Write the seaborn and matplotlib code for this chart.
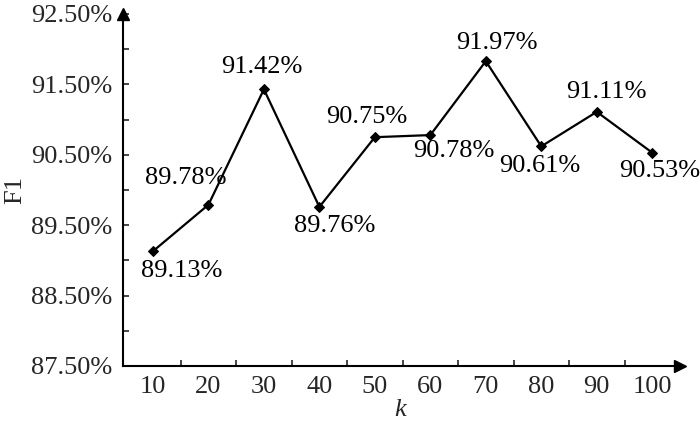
import matplotlib
matplotlib.use('Agg')
import matplotlib.pyplot as plt
from matplotlib.ticker import FixedLocator, FormatStrFormatter
import numpy as np
import pandas as pd
import seaborn as sns

# values (point heights) and the printed labels
k = [10, 20, 30, 40, 50, 60, 70, 80, 90, 100]
f1 = [89.13, 89.79, 91.43, 89.76, 90.75, 90.78, 91.83, 90.62, 91.11, 90.53]
f1_labels = ['89.13%', '89.78%', '91.42%', '89.76%', '90.75%',
             '90.78%', '91.97%', '90.61%', '91.11%', '90.53%']

# label offsets from each point, in pixels (dx, dy up)
label_offsets = [(29, -20), (-23, 27), (-2, 22), (15, -19), (-8, 20),
                 (23, -16), (11, 18), (-2, -20), (10, 20), (7, -18)]

df = pd.DataFrame({'k': k, 'F1': f1})

sns.set_style('ticks')
plt.rcParams['font.family'] = ['Liberation Serif', 'DejaVu Serif']
plt.rcParams['mathtext.fontset'] = 'custom'
plt.rcParams['mathtext.it'] = 'Liberation Serif:italic'
fs = 19

fig = plt.figure(figsize=(7, 4.28), dpi=100)
ax = fig.add_axes([0.1757, 0.1449, 0.7957, 0.8224])

sns.lineplot(data=df, x='k', y='F1', ax=ax, color='black', linewidth=1.6,
             marker='D', markersize=5, markeredgecolor='black')

for xi, yi, lab, (dx, dy) in zip(k, f1, f1_labels, label_offsets):
    ax.annotate(lab, (xi, yi), xytext=(dx, dy), textcoords='offset pixels',
                ha='center', va='center', fontsize=fs, color='black')

ax.set_xlim(4.6, 105)
ax.set_ylim(87.5, 92.5)

ax.set_yticks(np.arange(87.5, 92.6, 1.0))
ax.yaxis.set_minor_locator(FixedLocator([88, 89, 90, 91, 92]))
ax.yaxis.set_major_formatter(FormatStrFormatter('%.2f%%'))

ax.set_xticks(k)
ax.xaxis.set_minor_locator(FixedLocator(np.arange(15, 100, 10)))
ax.tick_params(axis='x', which='major', length=0, pad=7, labelsize=fs)
ax.tick_params(axis='x', which='minor', direction='in', length=4, width=1.2)
ax.tick_params(axis='y', which='both', direction='in', length=4, width=1.2,
               labelsize=fs, pad=8)

for s in ['top', 'right']:
    ax.spines[s].set_visible(False)
for s in ['left', 'bottom']:
    ax.spines[s].set_linewidth(1.5)
    ax.spines[s].set_color('black')

# arrow heads on the axes
ax.plot(1, 0, '>', color='black', markersize=9, transform=ax.transAxes, clip_on=False)
ax.plot(0, 1, '^', color='black', markersize=9, transform=ax.transAxes, clip_on=False)

ax.set_xlabel('$k$', fontsize=fs, va='center')
ax.set_ylabel('F1', fontsize=fs, va='center', ha='center')
ax.xaxis.set_label_coords(0.5, -0.125)
ax.yaxis.set_label_coords(-0.194, 0.5)

fig.savefig('out.png', dpi=100)
